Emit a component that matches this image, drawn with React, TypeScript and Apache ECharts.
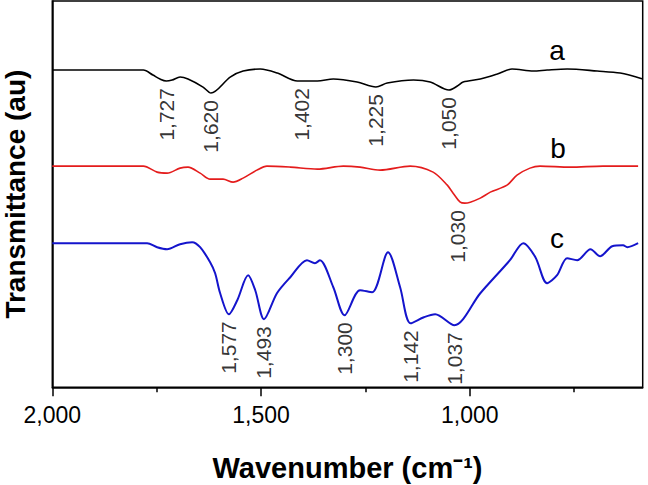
import React, { useEffect, useRef } from "react";
import * as echarts from "echarts";

// Wavenumber (cm-1) and transmittance (au) of each spectrum
const aWavenumber = [2000, 1886, 1782, 1759, 1742, 1727, 1713, 1694, 1675, 1639, 1620, 1574, 1543, 1502, 1461, 1413, 1365, 1327, 1270, 1225, 1198, 1135, 1095, 1050, 1030, 1016, 975, 934, 899, 848, 815, 767, 695, 640, 586];
const aT = [317, 317, 317, 312, 308, 306, 307, 310, 308, 300, 294, 310, 316, 318, 314, 306, 306, 308, 305, 300, 304, 307, 305, 297, 301, 305, 308, 313, 318, 316, 317, 318, 316, 314, 308];

const bWavenumber = [2000, 1886, 1782, 1749, 1725, 1694, 1675, 1646, 1622, 1591, 1567, 1543, 1510, 1486, 1430, 1365, 1303, 1263, 1215, 1143, 1088, 1054, 1040, 1023, 1012, 999, 975, 951, 911, 887, 856, 832, 760, 681, 597];
const bT = [221, 221, 221, 215, 214, 219, 220, 214, 208, 208, 205, 209, 217, 221, 220, 218, 221, 220, 217, 221, 215, 202, 194, 185, 184, 185, 189, 195, 202, 212, 219, 221, 220, 221, 221];

const cWavenumber = [2000, 1886, 1773, 1749, 1725, 1694, 1665, 1646, 1622, 1610, 1598, 1577, 1557, 1531, 1514, 1493, 1462, 1430, 1390, 1371, 1359, 1327, 1300, 1263, 1234, 1196, 1167, 1142, 1110, 1083, 1037, 975, 904, 872, 843, 815, 791, 767, 743, 711, 688, 659, 633, 623, 597];
const cT = [144, 144, 144, 140, 138, 143, 145, 140, 125, 114, 94, 73, 87, 112, 97, 68, 94, 110, 127, 124, 127, 100, 72, 97, 95, 135, 100, 64, 70, 73, 62, 94, 127, 144, 130, 104, 112, 129, 127, 138, 131, 141, 142, 140, 144];

// Labelled peaks
const aPeaks = [1727, 1620, 1402, 1225, 1050];
const aPeakT = [306, 294, 306, 300, 297];
const bPeaks = [1030];
const bPeakT = [184];
const cPeaks = [1577, 1493, 1300, 1142, 1037];
const cPeakT = [73, 68, 72, 64, 62];

const majorTicks = [2000, 1500, 1000];
const minorTicks = [1750, 1250, 750];
const seriesNames = ["a", "b", "c"];
const colors = ["#000000", "#e41c1c", "#1414cc"];

const FONT = "'Liberation Sans', Arial, sans-serif";
const fmt = (v: number) => String(Math.round(v)).replace(/\B(?=(\d{3})+(?!\d))/g, ",");

const zip = (x: number[], y: number[]) => x.map((v, i) => [v, y[i]]);

export default function App() {
  const ref = useRef<HTMLDivElement>(null);
  useEffect(() => {
    if (!ref.current) return;
    const chart = echarts.init(ref.current, undefined, { renderer: "svg" });
    const lineSeries = [
      [aWavenumber, aT],
      [bWavenumber, bT],
      [cWavenumber, cT],
    ].map(([x, y], i) => ({
      type: "line",
      name: seriesNames[i],
      data: zip(x, y),
      showSymbol: false,
      smooth: 0.3,
      lineStyle: { color: colors[i], width: i === 2 ? 2 : 1.6 },
      itemStyle: { color: colors[i] },
      silent: true,
      z: 2,
    }));
    const peakSeries = [
      [aPeaks, aPeakT],
      [bPeaks, bPeakT],
      [cPeaks, cPeakT],
    ].map(([x, y]) => ({
      type: "scatter",
      data: zip(x, y),
      symbolSize: 0,
      silent: true,
      label: {
        show: true,
        position: "bottom",
        distance: 7,
        rotate: 90,
        align: "right",
        verticalAlign: "middle",
        formatter: (p: any) => fmt(p.value[0]),
        fontSize: 21,
        fontFamily: FONT,
        color: "#000",
      },
      z: 3,
    }));
    chart.setOption({
      animation: false,
      backgroundColor: "#fff",
      grid: {
        left: 52.3,
        right: 5.3,
        top: 1,
        bottom: 97.7,
        containLabel: false,
        outerBoundsMode: "none",
        show: true,
        borderColor: "#000",
        borderWidth: 1.5,
        backgroundColor: "transparent",
      },
      xAxis: [
        {
          type: "value",
          inverse: true,
          min: 586,
          max: 2000,
          position: "bottom",
          axisLine: { show: true, lineStyle: { color: "#000", width: 1.5 } },
          axisTick: { show: true, customValues: majorTicks, length: 9, lineStyle: { color: "#000", width: 1.5 } },
          axisLabel: {
            show: true,
            customValues: majorTicks,
            formatter: (v: number) => fmt(v),
            fontSize: 23,
            fontFamily: FONT,
            color: "#000",
            margin: 16,
          },
          splitLine: { show: false },
          name: "Wavenumber (cm\u207B\u00B9)",
          nameLocation: "middle",
          nameGap: 66,
          nameTextStyle: { fontSize: 29, fontWeight: "bold", fontFamily: FONT, color: "#000" },
        },
        {
          type: "value",
          inverse: true,
          min: 586,
          max: 2000,
          position: "bottom",
          axisLine: { show: false },
          axisTick: { show: true, customValues: minorTicks, length: 5, lineStyle: { color: "#000", width: 1.5 } },
          axisLabel: { show: false },
          splitLine: { show: false },
        },
      ],
      yAxis: {
        type: "value",
        min: 0,
        max: 386,
        axisLine: { show: true, lineStyle: { color: "#000", width: 1.5 } },
        axisTick: { show: false },
        axisLabel: { show: false },
        splitLine: { show: false },
        name: "Transmittance (au)",
        nameLocation: "middle",
        nameGap: 23,
        nameTextStyle: { fontSize: 28, fontWeight: "bold", fontFamily: FONT, color: "#000" },
      },
      graphic: [
        { type: "text", x: 557, y: 50.3, style: { text: "a", fontSize: 28, fontFamily: FONT, fill: "#000", align: "center", verticalAlign: "middle" } },
        { type: "text", x: 558, y: 148.3, style: { text: "b", fontSize: 28, fontFamily: FONT, fill: "#000", align: "center", verticalAlign: "middle" } },
        { type: "text", x: 557, y: 238.3, style: { text: "c", fontSize: 28, fontFamily: FONT, fill: "#000", align: "center", verticalAlign: "middle" } },
      ],
      series: [...lineSeries, ...peakSeries],
    });
    return () => chart.dispose();
  }, []);
  return (
    <div
      ref={ref}
      style={{ position: "fixed", left: 0, top: 0, width: 648, height: 485, background: "#fff" }}
    />
  );
}
